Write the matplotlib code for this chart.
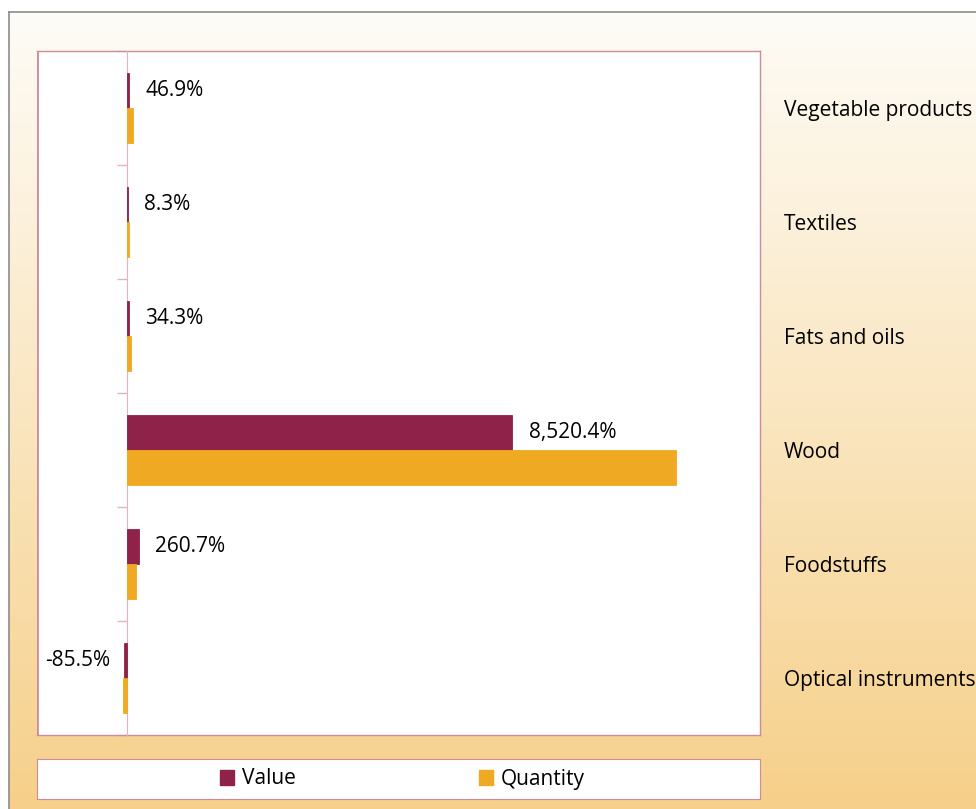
import numpy as np
import matplotlib.pyplot as plt
from matplotlib.patches import Patch

# data (percent change)
categories = ['Vegetable products', 'Textiles', 'Fats and oils', 'Wood',
              'Foodstuffs', 'Optical instruments']
value = [46.9, 8.3, 34.3, 8520.4, 260.7, -85.5]
quantity = [120, 30, 70, 12140, 185, -105]
value_labels = ['46.9%', '8.3%', '34.3%', '8,520.4%', '260.7%', '-85.5%']

c_value = '#8F2248'
c_qty = '#F0A922'
c_border = '#CC8C9C'
c_axis = '#E2B4C2'
fs = 15

plt.rcParams['font.family'] = ['Open Sans', 'DejaVu Sans']

fig = plt.figure(figsize=(9.76, 8.09), dpi=100)
W, H = 976, 809

# background gradient
bg = fig.add_axes([9 / W, 0, 1, (H - 12) / H], zorder=0)
grad = np.linspace(0, 1, 256).reshape(-1, 1)
top = np.array([254, 252, 247]) / 255
bot = np.array([246, 208, 138]) / 255
img = top + (bot - top) * grad[:, :, None]
bg.imshow(img, aspect='auto', extent=[0, 1, 0, 1], origin='upper')
bg.set_xlim(0, 1)
bg.set_ylim(0, 1)
bg.set_xticks([])
bg.set_yticks([])
for s in ['right', 'bottom']:
    bg.spines[s].set_visible(False)
for s in ['left', 'top']:
    bg.spines[s].set_color('#8C8C8C')
    bg.spines[s].set_linewidth(1.2)

# main plot
ax = fig.add_axes([37 / W, (H - 735) / H, 723 / W, 684 / H], zorder=2)
ax.set_facecolor('white')
y = np.arange(len(categories))
h = 0.307
ax.barh(y - h / 2, value, height=h, color=c_value, edgecolor=c_value,
        linewidth=0.6, zorder=5)
ax.barh(y + h / 2, quantity, height=h, color=c_qty, edgecolor=c_qty,
        linewidth=0.6, zorder=5)

for yi, v, lab in zip(y, value, value_labels):
    if v >= 0:
        ax.text(v + 360, yi - h / 2, lab, va='center', ha='left', fontsize=fs)
    else:
        ax.text(v - 290, yi - h / 2, lab, va='center', ha='right', fontsize=fs)

ax.set_xlim(-2000, 14000)
ax.set_ylim(len(categories) - 0.5, -0.5)
ax.set_xticks([])

ax.set_yticks(y)
ax.set_yticklabels(categories)
ax.set_yticks(np.arange(-0.5, len(categories)), minor=True)
ax.tick_params(axis='y', which='major', left=False, right=False,
               labelleft=False, labelright=True, pad=13.5, labelsize=fs)
ax.tick_params(axis='y', which='minor', left=True, right=False,
               length=7, color=c_axis, width=1, direction='out')

ax.spines['left'].set_position(('data', 0))
ax.spines['left'].set_color(c_axis)
ax.spines['left'].set_zorder(4)
for s in ['top', 'right', 'bottom']:
    ax.spines[s].set_color(c_border)
    ax.spines[s].set_linewidth(1)
# left border of the plot area (the left spine is moved to zero)
ax.axvline(-2000, color=c_border, lw=2)

# legend box
lax = fig.add_axes([37 / W, (H - 799) / H, 723 / W, 40 / H], zorder=2)
lax.set_facecolor('white')
lax.set_xticks([])
lax.set_yticks([])
for s in lax.spines.values():
    s.set_color(c_border)
handles = [Patch(color=c_value, label='Value'), Patch(color=c_qty, label='Quantity')]
lax.legend(handles=handles, loc='center', ncol=2, frameon=False, fontsize=fs,
           handlelength=0.7, handleheight=0.7, handletextpad=0.35,
           columnspacing=8.8, bbox_to_anchor=(0.505, 0.5))

fig.savefig('out.png', dpi=100)
